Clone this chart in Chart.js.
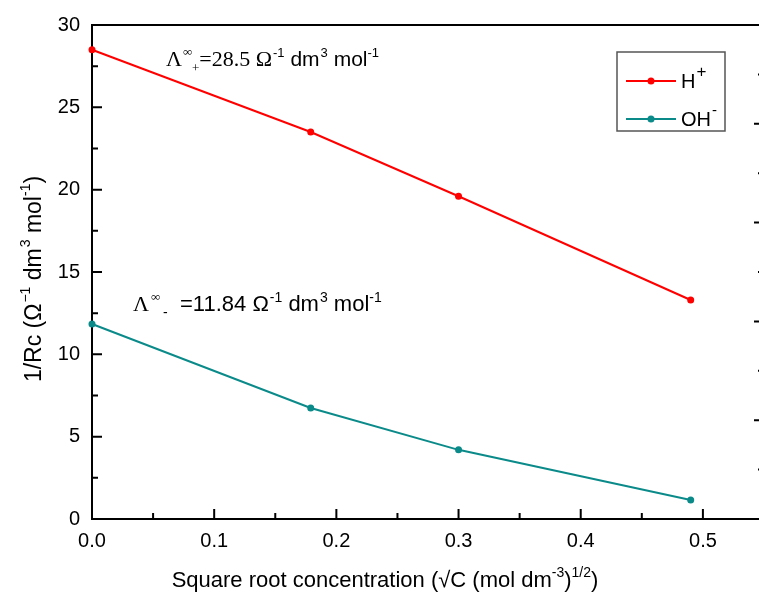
<!DOCTYPE html>
<html>
<head>
<meta charset="utf-8">
<script src="https://cdn.jsdelivr.net/npm/chart.js@4.4.1/dist/chart.umd.min.js"></script>
<style>
  html, body { margin: 0; padding: 0; background: #fff; overflow: hidden; width: 759px; height: 597px; }
  #wrap { width: 780px; height: 597px; }
</style>
</head>
<body>
<div id="wrap"><canvas id="c" width="780" height="597"></canvas></div>
<script>
// ---- data ----
const xValues = [0, 0.179, 0.3, 0.49];           // sqrt(C)
const hPlus   = [28.5, 23.5, 19.6, 13.3];        // H+
const ohMinus = [11.84, 6.74, 4.2, 1.15];        // OH-
const seriesNames = ['H', 'OH'];
const xTickValues = [0, 0.1, 0.2, 0.3, 0.4, 0.5];
const yTickValues = [0, 5, 10, 15, 20, 25, 30];
const annotationPlus  = '=28.5 Ω';
const annotationMinus = '=11.84 Ω';

const SANS = '"Liberation Sans", Arial, Helvetica, sans-serif';
const SERIF = '"Liberation Serif", "Times New Roman", serif';
const RED = '#ff0000';
const TEAL = '#0b8a8a';

function drawRuns(ctx, x, y, parts, measureOnly) {
  let cx = x;
  for (const p of parts) {
    ctx.font = p.f;
    const px = (p.at !== undefined ? p.at : cx) + (p.dx || 0);
    if (!measureOnly) ctx.fillText(p.t, px, y + (p.dy || 0));
    if (!p.noAdvance) cx = px + ctx.measureText(p.t).width;
  }
  return cx - x;
}

const deco = {
  id: 'deco',
  beforeDatasetsDraw(chart) {
    const ctx = chart.ctx;
    const a = chart.chartArea;
    const xs = chart.scales.x, ys = chart.scales.y, y2 = chart.scales.y2;
    ctx.save();
    ctx.strokeStyle = '#000';
    ctx.lineWidth = 2;
    ctx.strokeRect(a.left, a.top, a.right - a.left, a.bottom - a.top);
    ctx.beginPath();
    for (let v = 0; v <= 0.5001; v += 0.1) {
      const px = xs.getPixelForValue(v);
      ctx.moveTo(px, a.bottom); ctx.lineTo(px, a.bottom - 10);
    }
    for (let v = 0.05; v <= 0.4501; v += 0.1) {
      const px = xs.getPixelForValue(v);
      ctx.moveTo(px, a.bottom); ctx.lineTo(px, a.bottom - 6);
    }
    for (let v = 5; v <= 25; v += 5) {
      const py = ys.getPixelForValue(v);
      ctx.moveTo(a.left, py); ctx.lineTo(a.left + 10, py);
    }
    for (let v = 2.5; v <= 27.5; v += 5) {
      const py = ys.getPixelForValue(v);
      ctx.moveTo(a.left, py); ctx.lineTo(a.left + 6, py);
    }
    for (let v = 1; v <= 4; v += 1) {
      const py = y2.getPixelForValue(v);
      ctx.moveTo(a.right, py); ctx.lineTo(a.right - 10, py);
    }
    for (let v = 0.5; v <= 4.5; v += 1) {
      const py = y2.getPixelForValue(v);
      ctx.moveTo(a.right, py); ctx.lineTo(a.right - 6, py);
    }
    ctx.stroke();
    ctx.restore();
  },
  afterDraw(chart) {
    const ctx = chart.ctx;
    ctx.save();
    ctx.fillStyle = '#000';
    ctx.textBaseline = 'alphabetic';
    ctx.textAlign = 'left';

    // annotation H+
    drawRuns(ctx, 166, 66, [
      { t: 'Λ', f: '22px ' + SERIF },
      { t: '∞', f: '13px ' + SERIF, dy: -10, dx: 1, noAdvance: true },
      { t: '+', f: '13px ' + SERIF, dy: 6, dx: 10 },
      { t: annotationPlus, f: '22px ' + SERIF },
      { t: '-1', f: '13px ' + SANS, dy: -9, dx: 1 },
      { t: ' dm', f: '21px ' + SANS },
      { t: '3', f: '13px ' + SANS, dy: -9, dx: 1 },
      { t: ' mol', f: '21px ' + SANS },
      { t: '-1', f: '13px ' + SANS, dy: -9 }
    ]);

    // annotation OH-
    drawRuns(ctx, 133, 311, [
      { t: 'Λ', f: '22px ' + SERIF },
      { t: '∞', f: '13px ' + SERIF, dy: -10, dx: 2, noAdvance: true },
      { t: '-', f: '14px ' + SANS, dy: 6, dx: 14 },
      { t: annotationMinus, f: '22px ' + SANS, at: 180 },
      { t: '-1', f: '14px ' + SANS, dy: -9, dx: 1 },
      { t: ' dm', f: '22px ' + SANS },
      { t: '3', f: '14px ' + SANS, dy: -9, dx: 1 },
      { t: ' mol', f: '22px ' + SANS },
      { t: '-1', f: '14px ' + SANS, dy: -9 }
    ]);

    // legend
    ctx.strokeStyle = '#555';
    ctx.lineWidth = 1.5;
    ctx.strokeRect(617, 52, 108, 79);
    const items = [
      { name: seriesNames[0], sup: '+', color: RED, y: 81 },
      { name: seriesNames[1], sup: '-', color: TEAL, y: 119 }
    ];
    for (const it of items) {
      ctx.strokeStyle = it.color;
      ctx.lineWidth = 2;
      ctx.beginPath(); ctx.moveTo(626, it.y); ctx.lineTo(676, it.y); ctx.stroke();
      ctx.fillStyle = it.color;
      ctx.beginPath(); ctx.arc(651, it.y, 3.5, 0, Math.PI * 2); ctx.fill();
      ctx.fillStyle = '#000';
      drawRuns(ctx, 681, it.y + 7, [
        { t: it.name, f: '20px ' + SANS },
        { t: it.sup, f: (it.sup === '+' ? '17px ' : '15px ') + SANS, dy: -11, dx: 1 }
      ]);
    }

    // x axis title
    const xParts = [
      { t: 'Square root concentration (√C (mol dm', f: '22px ' + SANS },
      { t: '-3', f: '14px ' + SANS, dy: -10 },
      { t: ')', f: '22px ' + SANS },
      { t: '1/2', f: '14px ' + SANS, dy: -10 },
      { t: ')', f: '22px ' + SANS }
    ];
    const xw = drawRuns(ctx, 0, 0, xParts, true);
    drawRuns(ctx, 385 - xw / 2, 587, xParts);

    // y axis title
    const yParts = [
      { t: '1/Rc (Ω', f: '23px ' + SANS },
      { t: '−1', f: '14px ' + SANS, dy: -11, dx: 1 },
      { t: ' dm', f: '23px ' + SANS },
      { t: '3', f: '14px ' + SANS, dy: -11, dx: 1 },
      { t: ' mol', f: '23px ' + SANS },
      { t: '-1', f: '14px ' + SANS, dy: -11 },
      { t: ')', f: '23px ' + SANS }
    ];
    const yw = drawRuns(ctx, 0, 0, yParts, true);
    ctx.translate(41, 279);
    ctx.rotate(-Math.PI / 2);
    drawRuns(ctx, -yw / 2, 0, yParts);
    ctx.restore();
  }
};

const toPts = (xs, ys) => xs.map((x, i) => ({ x: x, y: ys[i] }));

new Chart(document.getElementById('c'), {
  type: 'line',
  data: {
    datasets: [
      { label: 'H+', data: toPts(xValues, hPlus), borderColor: RED, backgroundColor: RED,
        borderWidth: 2, pointRadius: 3.5, pointHoverRadius: 3.5, pointBorderWidth: 0, tension: 0, clip: false },
      { label: 'OH-', data: toPts(xValues, ohMinus), borderColor: TEAL, backgroundColor: TEAL,
        borderWidth: 2, pointRadius: 3.5, pointHoverRadius: 3.5, pointBorderWidth: 0, tension: 0, clip: false }
    ]
  },
  options: {
    responsive: false,
    devicePixelRatio: 1,
    animation: false,
    events: [],
    layout: { padding: { left: 0, top: 25, right: 16, bottom: 0 } },
    plugins: { legend: { display: false }, tooltip: { enabled: false } },
    scales: {
      x: {
        type: 'linear', min: 0, max: 0.55,
        afterFit: s => { s.height = 78; },
        afterBuildTicks: s => { s.ticks = xTickValues.map(v => ({ value: v })); },
        grid: { display: false, drawTicks: false },
        border: { display: false },
        ticks: { padding: 10, color: '#000', font: { family: SANS, size: 20 }, maxRotation: 0,
                 callback: v => Number(v).toFixed(1) }
      },
      y: {
        type: 'linear', min: 0, max: 30,
        afterFit: s => { s.width = 92; },
        afterBuildTicks: s => { s.ticks = yTickValues.map(v => ({ value: v })); },
        grid: { display: false, drawTicks: false },
        border: { display: false },
        ticks: { padding: 12, color: '#000', font: { family: SANS, size: 20 } }
      },
      y2: {
        type: 'linear', position: 'right', min: 0, max: 5, display: false
      }
    }
  },
  plugins: [deco]
});
</script>
</body>
</html>
